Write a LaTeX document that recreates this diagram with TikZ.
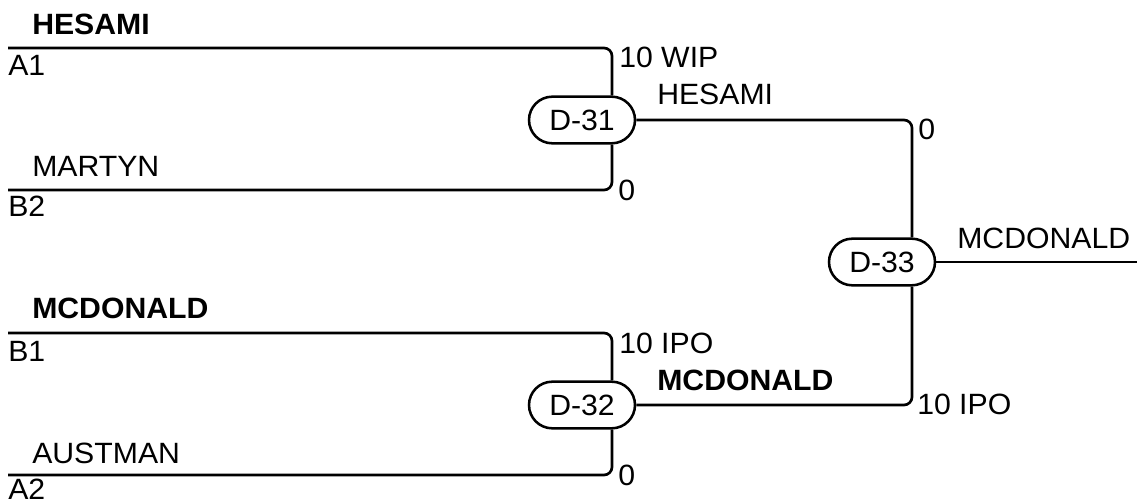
\documentclass[tikz,border=0pt]{standalone}
\usepackage{fontspec}
\setmainfont{Liberation Sans}[FakeStretch=1.03]
\usetikzlibrary{positioning}
\usetikzlibrary{calc}
\usetikzlibrary{shapes.misc}

\tikzset{
  game/.style={rounded rectangle, draw, fill=white, line width=1.9pt,
    minimum width=79.5pt, minimum height=35pt, inner sep=0pt},
  bracket/.style={line width=2pt, rounded corners=6pt},
  lbl/.style={anchor=base west, inner sep=0pt}
}

\begin{document}
\begin{tikzpicture}[x=0.75pt, y=-0.75pt, font=\fontsize{22}{26}\selectfont]
	\useasboundingbox (0,0) rectangle (1137,502);
	% games
	\node[game] (d31) at (582,120) {D-31};
	\node[game] (d32) at (582,405) {D-32};
	\node[game] (d33) at (882,262) {D-33};
	% entry lines
	\coordinate (a1) at (8,48);
	\coordinate (b2) at (8,190);
	\coordinate (b1) at (8,333);
	\coordinate (a2) at (8,475);
	\coordinate (champ) at (1137,262);
	% draw brackets
	\draw[bracket] (a1) -| ($(d31.north)+(30,0)$);
	\draw[bracket] (b2) -| ($(d31.south)+(30,0)$);
	\draw[bracket] (b1) -| ($(d32.north)+(30,0)$);
	\draw[bracket] (a2) -| ($(d32.south)+(30,0)$);
	\draw[bracket] (d31.east) -| ($(d33.north)+(30,0)$);
	\draw[bracket] (d32.east) -| ($(d33.south)+(30,0)$);
	\draw[bracket] (d33.east) -- (champ);
	% teams and seeds
	\node[lbl] (t1) at (32,35) {\bfseries HESAMI};
	\node[lbl] (s1) at (8,76) {A1};
	\node[lbl] (t2) at (32,177) {MARTYN};
	\node[lbl] (s2) at (8,217) {B2};
	\node[lbl] (t3) at (32,318) {\bfseries MCDONALD};
	\node[lbl] (s3) at (8,361) {B1};
	\node[lbl] (t4) at (32,463) {AUSTMAN};
	\node[lbl] (s4) at (8,499) {A2};
	% scores
	\node[lbl] (r1) at (619,68) {10 WIP};
	\node[lbl] (r2) at (618,200) {0};
	\node[lbl] (r3) at (619,353) {10 IPO};
	\node[lbl] (r4) at (618,485) {0};
	\node[lbl] (r5) at (918,140) {0};
	\node[lbl] (r6) at (917,414) {10 IPO};
	% winners
	\node[lbl] (w1) at (657,105) {HESAMI};
	\node[lbl] (w2) at (657,390) {\bfseries MCDONALD};
	\node[lbl] (w3) at (957,248) {MCDONALD};
\end{tikzpicture}
\end{document}
